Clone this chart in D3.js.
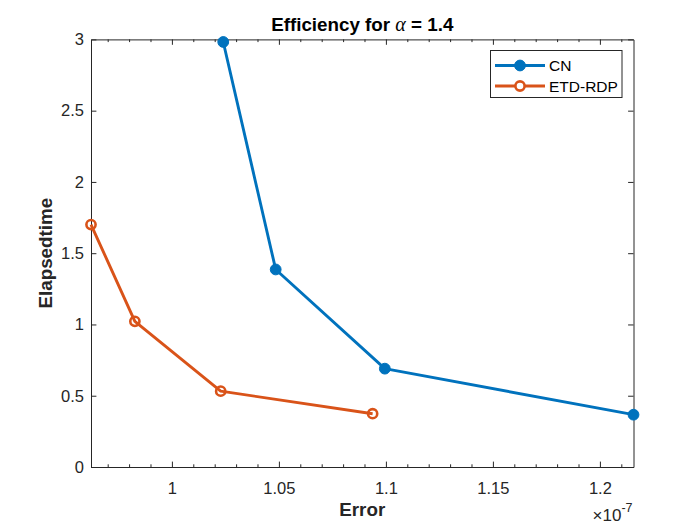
<!DOCTYPE html>
<html>
<head>
<meta charset="utf-8">
<script src="https://cdn.jsdelivr.net/npm/d3@7"></script>
<style>
  html, body { margin: 0; padding: 0; background: #fff; }
  svg { display: block; font-family: "Liberation Sans", Arial, Helvetica, sans-serif; }
</style>
</head>
<body>
<svg id="chart" width="700" height="525"></svg>
<script>
// ---- data (x in units of 1e-7) ----
const cnError = [1.024, 1.0485, 1.0995, 1.2157];
const cnTime = [2.982, 1.386, 0.690, 0.367];
const etdError = [0.9622, 0.9827, 1.0228, 1.0938];
const etdTime = [1.701, 1.022, 0.532, 0.374];
const seriesNames = ["CN", "ETD-RDP"];
const xTicks = [1, 1.05, 1.1, 1.15, 1.2];
const xTickLabels = ["1", "1.05", "1.1", "1.15", "1.2"];
const yTicks = [0, 0.5, 1, 1.5, 2, 2.5, 3];
const yTickLabels = ["0", "0.5", "1", "1.5", "2", "2.5", "3"];
const xDomain = [0.9622, 1.2157];
const yDomain = [0, 3];

(function () {
const colors = ["#0072BD", "#D95319"];
const axisColor = "#262626";
const tickFont = "16.5px";
const labelFont = "18.8px";

const svg = d3.select("#chart");
svg.append("rect").attr("width", 700).attr("height", 525).attr("fill", "#fff");

const pL = 91, pR = 633.5, pT = 39.4, pB = 467;
const x = d3.scaleLinear().domain(xDomain).range([pL, pR]);
const y = d3.scaleLinear().domain(yDomain).range([pB, pT]);

// minor ticks every 0.01
const minor = d3.range(Math.ceil(xDomain[0] * 100), Math.floor(xDomain[1] * 100) + 1)
  .map(v => v / 100)
  .filter(v => !xTicks.some(t => Math.abs(t - v) < 1e-9));

const g = svg.append("g");

const bottomAxis = d3.axisBottom(x).tickValues(xTicks).tickFormat((d, i) => xTickLabels[i]).tickSizeInner(-5.4).tickSizeOuter(0).tickPadding(15);
const topAxis = d3.axisTop(x).tickValues(xTicks).tickFormat("").tickSizeInner(-5.4).tickSizeOuter(0);
const leftAxis = d3.axisLeft(y).tickValues(yTicks).tickFormat((d, i) => yTickLabels[i]).tickSizeInner(-5.4).tickSizeOuter(0).tickPadding(7);
const rightAxis = d3.axisRight(y).tickValues(yTicks).tickFormat("").tickSizeInner(-5.4).tickSizeOuter(0);

function styleAxis(sel) {
  sel.select(".domain").attr("stroke", axisColor).attr("stroke-width", 1);
  sel.selectAll(".tick line").attr("stroke", axisColor).attr("stroke-width", 1);
  sel.selectAll(".tick text").attr("fill", axisColor).style("font-size", tickFont)
    .style("font-family", "'Liberation Sans', Arial, sans-serif");
}

g.append("g").attr("transform", `translate(0,${pB})`).call(bottomAxis).call(styleAxis);
g.append("g").attr("transform", `translate(0,${pT})`).call(topAxis).call(styleAxis);
g.append("g").attr("transform", `translate(${pL},0)`).call(leftAxis).call(styleAxis);
g.append("g").attr("transform", `translate(${pR},0)`).call(rightAxis).call(styleAxis);

const minorBottom = d3.axisBottom(x).tickValues(minor).tickFormat("").tickSizeInner(-2.7).tickSizeOuter(0);
const minorTop = d3.axisTop(x).tickValues(minor).tickFormat("").tickSizeInner(-2.7).tickSizeOuter(0);
g.append("g").attr("transform", `translate(0,${pB})`).call(minorBottom).call(styleAxis).select(".domain").remove();
g.append("g").attr("transform", `translate(0,${pT})`).call(minorTop).call(styleAxis).select(".domain").remove();

const series = [
  { name: seriesNames[0], xs: cnError, ys: cnTime, color: colors[0], filled: true },
  { name: seriesNames[1], xs: etdError, ys: etdTime, color: colors[1], filled: false }
];
const line = d3.line().x(d => x(d[0])).y(d => y(d[1]));

series.forEach(s => {
  const pts = s.xs.map((v, i) => [v, s.ys[i]]);
  const sg = svg.append("g");
  sg.append("path").datum(pts).attr("d", line).attr("fill", "none")
    .attr("stroke", s.color).attr("stroke-width", 2.9).attr("stroke-linejoin", "round");
  sg.selectAll("circle").data(pts).join("circle")
    .attr("cx", d => x(d[0])).attr("cy", d => y(d[1]))
    .attr("r", s.filled ? 5.4 : 4.6)
    .attr("fill", s.filled ? s.color : "none")
    .attr("stroke", s.color).attr("stroke-width", s.filled ? 1 : 2.6);
});

// legend
const lg = svg.append("g");
lg.append("rect").attr("x", 490.5).attr("y", 50.5).attr("width", 131.5).attr("height", 47)
  .attr("fill", "#fff").attr("stroke", axisColor).attr("stroke-width", 1);
const rows = [65.5, 86];
series.forEach((s, i) => {
  lg.append("line").attr("x1", 495).attr("x2", 545).attr("y1", rows[i]).attr("y2", rows[i])
    .attr("stroke", s.color).attr("stroke-width", 2.9);
  lg.append("circle").attr("cx", 520).attr("cy", rows[i]).attr("r", s.filled ? 5.4 : 4.6)
    .attr("fill", s.filled ? s.color : "#fff").attr("stroke", s.color).attr("stroke-width", s.filled ? 1 : 2.6);
  lg.append("text").attr("x", 549).attr("y", rows[i]).attr("dy", "0.36em")
    .attr("fill", "#000").style("font-size", "15.5px").text(s.name);
});

// title
const title = svg.append("text").attr("x", (pL + pR) / 2).attr("y", 31)
  .attr("text-anchor", "middle").style("font-size", labelFont).style("font-weight", "bold").attr("fill", "#000");
title.append("tspan").text("Efficiency for ");
title.append("tspan").style("font-family", "'Liberation Serif', 'Times New Roman', serif")
  .style("font-style", "italic").style("font-weight", "normal").style("font-size", "20px").text("α");
title.append("tspan").text(" = 1.4");

// axis labels
svg.append("text").attr("x", (pL + pR) / 2).attr("y", 516).attr("text-anchor", "middle")
  .style("font-size", labelFont).style("font-weight", "bold").attr("fill", axisColor).text("Error");
svg.append("text").attr("transform", `translate(52,${(pT + pB) / 2}) rotate(-90)`)
  .attr("text-anchor", "middle").style("font-size", labelFont).style("font-weight", "bold")
  .attr("fill", axisColor).text("Elapsedtime");

// exponent label
const ex = svg.append("text").attr("x", pR - 1).attr("y", 521).attr("text-anchor", "end")
  .style("font-size", "17px").attr("fill", axisColor);
ex.append("tspan").text("×10");
ex.append("tspan").attr("dy", -9).style("font-size", "12.5px").text("-7");
})();
</script>
</body>
</html>
